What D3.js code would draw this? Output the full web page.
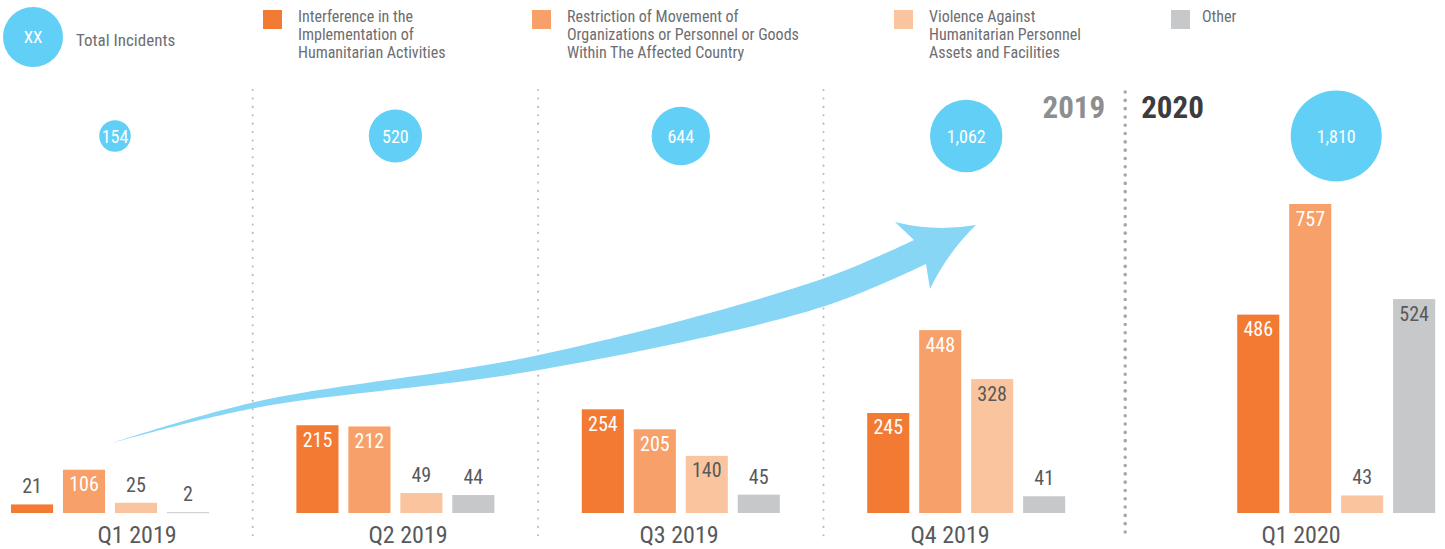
<!DOCTYPE html>
<html>
<head>
<meta charset="utf-8">
<script src="https://cdn.jsdelivr.net/npm/d3@7"></script>
<style>
  html, body { margin: 0; padding: 0; background: #fff; }
  svg text { font-family: "Roboto Condensed", Roboto, "Liberation Sans Narrow", sans-serif; font-stretch: condensed; }
  svg text.quarter { font-stretch: normal; }
</style>
</head>
<body>
<script>
// DATA
const quarters = ["Q1 2019", "Q2 2019", "Q3 2019", "Q4 2019", "Q1 2020"];
const quarterYear = [2019, 2019, 2019, 2019, 2020];
const totals = [154, 520, 644, 1062, 1810];

const seriesNames = ["Interference", "Restriction", "Violence", "Other"];
const interference = [21, 215, 254, 245, 486];
const restriction = [106, 212, 205, 448, 757];
const violence = [25, 49, 140, 328, 43];
const other = [2, 44, 45, 41, 524];
const seriesValues = [interference, restriction, violence, other];

const legendLines = [
  ["Interference in the", "Implementation of", "Humanitarian Activities"],
  ["Restriction of Movement of", "Organizations or Personnel or Goods", "Within The Affected Country"],
  ["Violence Against", "Humanitarian Personnel", "Assets and Facilities"],
  ["Other"]
];
const yearLabels = ["2019", "2020"];

// STYLE
const colors = ["#f37a33", "#f7a06a", "#fac59e", "#c7c8ca"];
const labelInsideColor = ["#ffffff", "#ffffff", "#58595b", "#58595b"];
const bubbleColor = "#62cff6";
const arrowColor = "#87d6f6";
const textGray = "#58595b";

const W = 1445, H = 549;
const baseline = 513;

const svg = d3.select("body").append("svg")
  .attr("width", W).attr("height", H);

// SCALES
const groupStep = d3.scaleLinear().domain([0, 1]).range([11, 296.4]);
const yearGap = 84.6;
const groupX = i => groupStep(i) + (quarterYear[i] === 2020 ? yearGap : 0);
const inner = d3.scaleBand().domain(seriesNames).range([0, 198]).paddingInner(0.19);
const y = d3.scaleLinear().domain([0, 757]).range([baseline, 204]);
const r = d3.scalePow().exponent(0.43).domain([0, 1810]).range([0, 45.5]);
const groupCenter = i => groupX(i) + 99;
// quarter captions sit on their own, slightly tighter rhythm
const captionStep = d3.scaleLinear().domain([0, 1]).range([137, 408]);
const captionX = i => captionStep(i) + (quarterYear[i] === 2020 ? 80 : 0);
const bubbleX = i => i === 0 ? groupCenter(i) + 5 : groupCenter(i);

// LEGEND
const leg = svg.append("g");
leg.append("circle").attr("cx", 33).attr("cy", 37).attr("r", 30).attr("fill", bubbleColor);
leg.append("text").attr("x", 33).attr("y", 43).attr("text-anchor", "middle")
  .attr("font-size", 17).attr("fill", "#fff").text("XX");
leg.append("text").attr("x", 76).attr("y", 46).attr("font-size", 17)
  .attr("fill", "#6d6e71").text("Total Incidents");

const legX = [263, 532, 894, 1171];
seriesNames.forEach((s, k) => {
  const g = leg.append("g").attr("transform", `translate(${legX[k]},0)`);
  g.append("rect").attr("x", 0).attr("y", 10).attr("width", 19).attr("height", 19).attr("fill", colors[k]);
  g.append("text").attr("font-size", 16).attr("fill", "#6d6e71")
    .selectAll("tspan").data(legendLines[k]).join("tspan")
    .attr("x", k === 3 ? 31 : 35).attr("y", (d, j) => 22 + j * 18).text(d => d);
});

// DIVIDERS
[0, 1, 2].forEach(i => {
  const xm = (groupX(i) + 198 + groupX(i + 1)) / 2;
  svg.append("line").attr("x1", xm).attr("x2", xm).attr("y1", 90).attr("y2", 540)
    .attr("stroke", "#b8b8ba").attr("stroke-width", 2)
    .attr("stroke-linecap", "round").attr("stroke-dasharray", "0.1,8.3");
});
const yearDivX = groupX(3) + 198 + 60;
svg.append("line").attr("x1", yearDivX).attr("x2", yearDivX).attr("y1", 92).attr("y2", 540)
  .attr("stroke", "#a7a7a9").attr("stroke-width", 3.5)
  .attr("stroke-linecap", "round").attr("stroke-dasharray", "0.1,8.2");

svg.append("text").attr("x", yearDivX - 20).attr("y", 118).attr("text-anchor", "end")
  .attr("font-size", 31).attr("font-weight", 700).attr("fill", "#8d8e90").text(yearLabels[0]);
svg.append("text").attr("x", yearDivX + 16).attr("y", 118).attr("text-anchor", "start")
  .attr("font-size", 31).attr("font-weight", 700).attr("fill", "#3c3c3e").text(yearLabels[1]);

// ARROW (decoration)
const upperEdge = [[112, 443], [255, 402], [539, 355], [822, 279], [914, 240]];
const lowerEdge = [[926, 264], [822, 307], [539, 370], [255, 408], [112, 443]];
const edge = d3.line().curve(d3.curveCatmullRom.alpha(0.5));
const up = edge(upperEdge);
const low = edge(lowerEdge).replace(/^M[^C]*/, "");
const head = "L895,222 Q935,232 976,225 Q948,252 930,289 L926,264";
svg.append("path").attr("d", up + head + "L926,264" + low + "Z")
  .attr("fill", arrowColor);

// BUBBLES
const bubbles = svg.append("g").selectAll("g").data(totals).join("g")
  .attr("transform", (d, i) => `translate(${bubbleX(i)},136)`);
bubbles.append("circle").attr("r", d => r(d)).attr("fill", bubbleColor);
bubbles.append("text").attr("text-anchor", "middle").attr("y", 6.5)
  .attr("font-size", 18).attr("fill", "#fff").text(d => d3.format(",")(d));

// BARS
quarters.forEach((q, i) => {
  const g = svg.append("g").attr("transform", `translate(${groupX(i)},0)`);
  const vals = seriesValues.map((arr, k) => ({ k, v: arr[i] }));
  g.selectAll("rect").data(vals).join("rect")
    .attr("x", d => inner(seriesNames[d.k]))
    .attr("y", d => y(d.v))
    .attr("width", inner.bandwidth())
    .attr("height", d => Math.max(1, baseline - y(d.v)))
    .attr("fill", d => colors[d.k]);
  g.selectAll("text.val").data(vals).join("text").attr("class", "val")
    .attr("x", d => inner(seriesNames[d.k]) + inner.bandwidth() / 2)
    .attr("y", d => (baseline - y(d.v) > 35) ? y(d.v) + 21.5 : y(d.v) - 11)
    .attr("text-anchor", "middle").attr("font-size", 20)
    .attr("fill", d => (baseline - y(d.v) > 35) ? labelInsideColor[d.k] : textGray)
    .text(d => d.v);
  svg.append("text").attr("class", "quarter").attr("x", captionX(i)).attr("y", 543)
    .attr("text-anchor", "middle").attr("font-size", 24).attr("fill", textGray).text(q);
});
</script>
</body>
</html>
